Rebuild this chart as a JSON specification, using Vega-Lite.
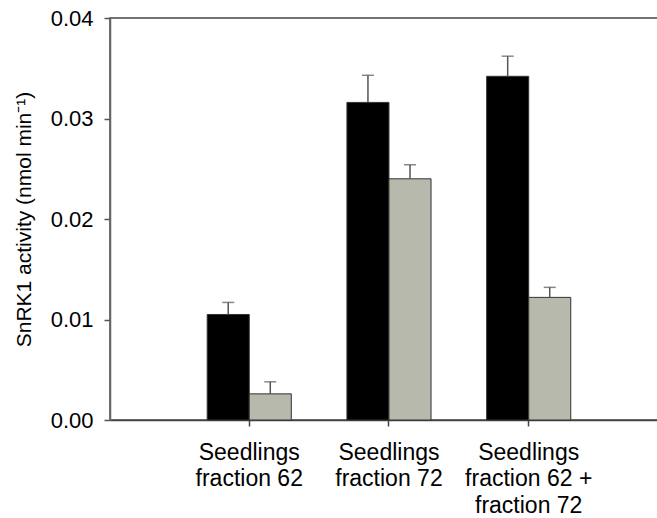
{
  "$schema": "https://vega.github.io/schema/vega-lite/v6.json",
  "autosize": "none",
  "width": 548,
  "height": 402,
  "padding": {"left": 110, "top": 18, "right": 0, "bottom": 98},
  "background": "white",
  "config": {
    "font": "Liberation Sans",
    "view": {"stroke": "#444", "strokeWidth": 1.5},
    "axis": {"grid": false}
  },
  "data": {
    "values": [
      {"sample": "Seedlings fraction 62", "series": "a", "activity": 0.0105, "upper": 0.0117},
      {"sample": "Seedlings fraction 62", "series": "b", "activity": 0.0026, "upper": 0.0038},
      {"sample": "Seedlings fraction 72", "series": "a", "activity": 0.0316, "upper": 0.0343},
      {"sample": "Seedlings fraction 72", "series": "b", "activity": 0.0240, "upper": 0.0254},
      {"sample": "Seedlings fraction 62 + fraction 72", "series": "a", "activity": 0.0342, "upper": 0.0362},
      {"sample": "Seedlings fraction 62 + fraction 72", "series": "b", "activity": 0.0122, "upper": 0.0132}
    ]
  },
  "encoding": {
    "x": {
      "field": "sample",
      "type": "nominal",
      "sort": null,
      "scale": {"paddingInner": 0.398, "paddingOuter": 0.66, "align": 0.527},
      "axis": {
        "title": null,
        "labelAngle": 0,
        "labelFontSize": 23,
        "labelColor": "black",
        "labelLineHeight": 26.5,
        "labelPadding": 15,
        "labelBaseline": "top",
        "labelExpr": "split(replace(replace(datum.label, 'Seedlings ', 'Seedlings|'), ' + ', ' +|'), '|')",
        "domainColor": "#444",
        "domainWidth": 1.5,
        "tickColor": "#444",
        "tickWidth": 1.5,
        "tickSize": 6
      }
    },
    "xOffset": {
      "field": "series",
      "type": "nominal",
      "scale": {"paddingInner": 0, "paddingOuter": 0}
    }
  },
  "layer": [
    {
      "mark": {"type": "bar", "stroke": "#333", "strokeWidth": 1},
      "encoding": {
        "y": {
          "field": "activity",
          "type": "quantitative",
          "scale": {"domain": [0, 0.04], "nice": false},
          "axis": {
            "values": [0, 0.01, 0.02, 0.03, 0.04],
            "format": ".2f",
            "labelFontSize": 22,
            "labelColor": "black",
            "labelPadding": 11,
            "tickSize": 6,
            "tickColor": "#555",
            "tickWidth": 1.5,
            "domainColor": "#666",
            "domainWidth": 1.5,
            "title": "SnRK1 activity (nmol min⁻¹)",
            "titleFont": "Liberation Sans",
            "titleFontSize": 21,
            "titleFontWeight": "normal",
            "titleColor": "black",
            "titleX": -86,
            "titleY": 201,
            "titleAngle": -90,
            "titleAlign": "center",
            "titleBaseline": "middle"
          }
        },
        "fill": {
          "field": "series",
          "type": "nominal",
          "scale": {"domain": ["a", "b"], "range": ["#000000", "#b8b9ad"]},
          "legend": null
        }
      }
    },
    {
      "mark": {"type": "rule", "color": "#555", "strokeWidth": 1.5},
      "encoding": {
        "y": {"field": "activity", "type": "quantitative"},
        "y2": {"field": "upper"}
      }
    },
    {
      "mark": {"type": "tick", "color": "#555", "thickness": 1.5, "size": 12, "orient": "horizontal"},
      "encoding": {
        "y": {"field": "upper", "type": "quantitative"}
      }
    }
  ]
}
